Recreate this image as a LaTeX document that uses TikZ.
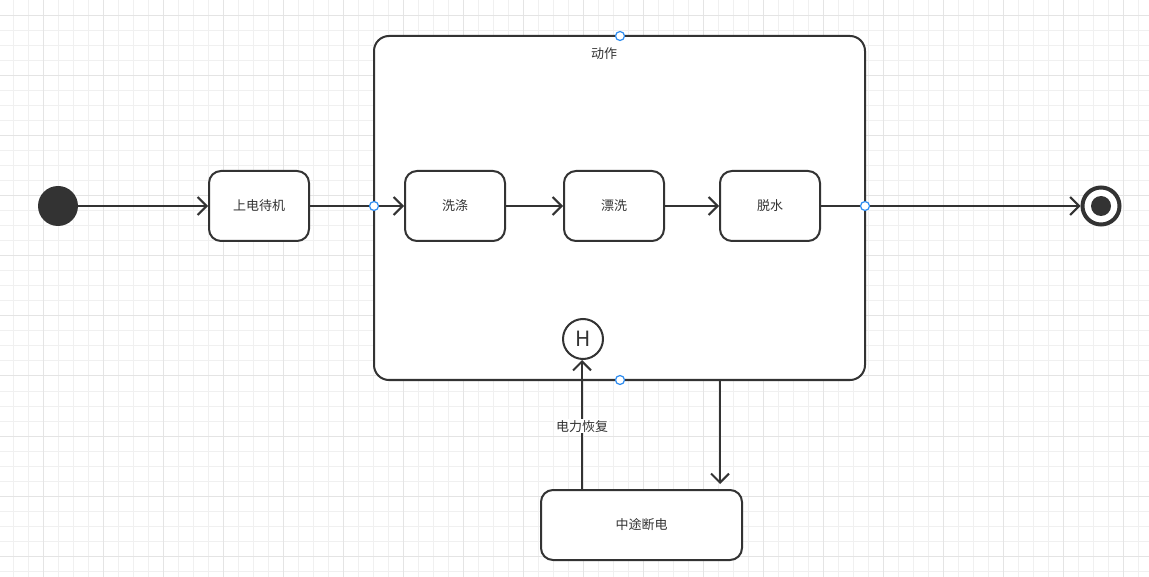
\documentclass[tikz,border=0pt]{standalone}
\usepackage{fontspec}
\newfontfamily\cjk{Noto Sans CJK SC}
\usetikzlibrary{arrows.meta, positioning, calc}
\definecolor{InkDark}{HTML}{333333}
\definecolor{GridMinor}{HTML}{F0F0F0}
\definecolor{GridMajor}{HTML}{E4E4E4}
\definecolor{PortBlue}{HTML}{2D8CF0}
\tikzset{
    % state boxes - rounded corners
    statebox/.style={
        rectangle,
        rounded corners=12pt,
        draw=InkDark,
        fill=white,
        line width=2pt,
        minimum width=100pt,
        minimum height=70pt,
        align=center,
        text=InkDark,
        font=\cjk\fontsize{13}{15}\selectfont
    },
    composite/.style={
        rectangle,
        rounded corners=15pt,
        draw=InkDark,
        fill=white,
        line width=2pt,
        minimum width=491pt,
        minimum height=344pt
    },
    initstate/.style={
        circle,
        fill=InkDark,
        minimum size=40pt,
        inner sep=0pt
    },
    finalstate/.style={
        circle,
        draw=InkDark,
        fill=white,
        line width=4pt,
        minimum size=37pt,
        inner sep=0pt
    },
    histstate/.style={
        circle,
        draw=InkDark,
        fill=white,
        line width=2pt,
        minimum size=40pt,
        inner sep=0pt,
        text=InkDark,
        font=\cjk\fontsize{21}{21}\selectfont
    },
    port/.style={
        circle,
        draw=PortBlue,
        fill=white,
        line width=1.2pt,
        minimum size=9pt,
        inner sep=0pt
    },
    label/.style={
        text=InkDark,
        font=\cjk\fontsize{13}{15}\selectfont
    },
    % arrow styles
    arrow/.style={
        -{Straight Barb[length=9pt,width=18pt,line width=2pt]},
        line width=2pt,
        draw=InkDark
    },
    line/.style={
        line width=2pt,
        draw=InkDark
    }
}

\begin{document}
\begin{tikzpicture}[x=1pt, y=-1pt]
    \useasboundingbox (0,0) rectangle (1149,577);
    \fill[white] (0,0) rectangle (1149,577);

    % background grid
    \foreach \x in {13,28,...,1148}
        \draw[GridMinor, line width=1pt] (\x,0) -- (\x,577);
    \foreach \y in {16,31,...,576}
        \draw[GridMinor, line width=1pt] (0,\y) -- (1149,\y);
    \foreach \x in {43,103,...,1148}
        \draw[GridMajor, line width=1pt] (\x,0) -- (\x,577);
    \foreach \y in {16,76,...,576}
        \draw[GridMajor, line width=1pt] (0,\y) -- (1149,\y);

    % composite state
    \node[composite] (act) at (619.5,208) {};
    \node[label] (actname) at (604,54) {动作};

    % states
    \node[initstate] (init) at (58,206) {};
    \node[statebox] (standby) at (259,206) {上电待机};
    \node[statebox] (wash) at (455,206) {洗涤};
    \node[statebox] (rinse) at (614,206) {漂洗};
    \node[statebox] (spin) at (770,206) {脱水};
    \node[finalstate] (final) at (1101,206) {};
    \fill[InkDark] (final) circle (10pt);
    \node[histstate] (hist) at (583,339) {H};
    \node[statebox, minimum width=201pt] (fail) at (641.5,525) {中途断电};

    % connection points
    \coordinate (cut) at (720,380);
    \coordinate (cutin) at (720,484);
    \coordinate (back) at (582,490);

    % transitions
    \draw[arrow] (init) -- (standby);
    \draw[arrow] (standby) -- (wash);
    \draw[arrow] (wash) -- (rinse);
    \draw[arrow] (rinse) -- (spin);
    \draw[arrow] (spin) -- (final);
    \draw[arrow] (cut) -- (cutin);
    \draw[arrow] (back) -- (back |- hist.south)
        node[label, fill=white, pos=0.49, inner sep=1pt] (resume) {电力恢复};

    % ports on the composite border
    \node[port] (ptop) at (620,36) {};
    \node[port] (pbottom) at (620,380) {};
    \node[port] (pleft) at (374,206) {};
    \node[port] (pright) at (865,206) {};
\end{tikzpicture}
\end{document}
